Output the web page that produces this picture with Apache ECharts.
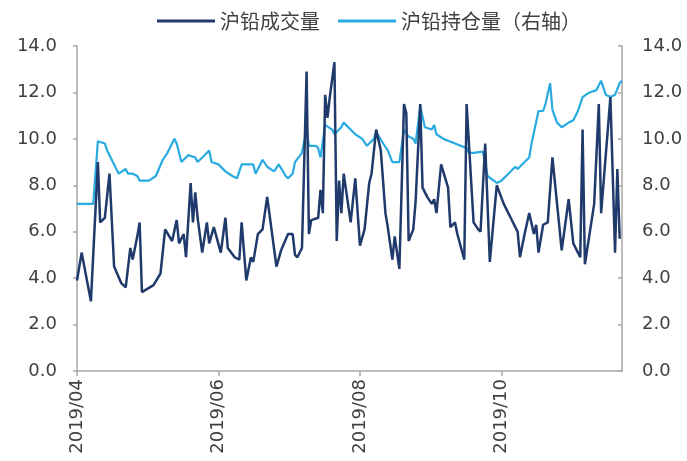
<!DOCTYPE html>
<html>
<head>
<meta charset="utf-8">
<script src="https://cdn.jsdelivr.net/npm/echarts@6/dist/echarts.min.js"></script>
<style>
html,body{margin:0;padding:0;background:#fff;}
#chart{width:687px;height:461px;}
</style>
</head>
<body>
<div id="chart"></div>
<script>
// ---- data ----
const seriesNames = ['沪铅成交量', '沪铅持仓量（右轴）'];
const xTickLabels = ['2019/04', '2019/06', '2019/08', '2019/10'];
const yTickLabels = ['0.0', '2.0', '4.0', '6.0', '8.0', '10.0', '12.0', '14.0'];
const axisStart = '2019-04-01';
const axisEnd = '2019-11-22';

const volumeDates = ['2019-04-01','2019-04-03','2019-04-07','2019-04-10','2019-04-11','2019-04-13','2019-04-15','2019-04-17','2019-04-20','2019-04-22',
'2019-04-24','2019-04-25','2019-04-27','2019-04-28','2019-04-29','2019-05-04','2019-05-07','2019-05-09','2019-05-12','2019-05-14',
'2019-05-15','2019-05-17','2019-05-18','2019-05-20','2019-05-21','2019-05-22','2019-05-23','2019-05-25','2019-05-27','2019-05-28',
'2019-05-30','2019-06-02','2019-06-04','2019-06-05','2019-06-08','2019-06-10','2019-06-11','2019-06-13','2019-06-15','2019-06-16',
'2019-06-18','2019-06-20','2019-06-22','2019-06-26','2019-06-28','2019-07-01','2019-07-03','2019-07-04','2019-07-05','2019-07-07',
'2019-07-09','2019-07-10','2019-07-11','2019-07-14','2019-07-15','2019-07-16','2019-07-17','2019-07-18','2019-07-19','2019-07-21',
'2019-07-22','2019-07-23','2019-07-24','2019-07-25','2019-07-28','2019-07-30','2019-08-01','2019-08-03','2019-08-05','2019-08-06',
'2019-08-08','2019-08-10','2019-08-12','2019-08-13','2019-08-15','2019-08-16','2019-08-18','2019-08-20','2019-08-21','2019-08-22',
'2019-08-24','2019-08-25','2019-08-27','2019-08-28','2019-08-30','2019-09-01','2019-09-02','2019-09-03','2019-09-05','2019-09-08',
'2019-09-09','2019-09-11','2019-09-12','2019-09-15','2019-09-16','2019-09-19','2019-09-21','2019-09-22','2019-09-24','2019-09-26',
'2019-09-29','2019-10-02','2019-10-05','2019-10-07','2019-10-08','2019-10-09','2019-10-11','2019-10-13','2019-10-15','2019-10-16',
'2019-10-17','2019-10-19','2019-10-21','2019-10-23','2019-10-27','2019-10-30','2019-11-01','2019-11-04','2019-11-05','2019-11-06',
'2019-11-10','2019-11-12','2019-11-13','2019-11-17','2019-11-19','2019-11-20','2019-11-21'];
const volumeValues = [3.9,5.1,3.0,9.0,6.4,6.6,8.5,4.5,3.8,3.6,
5.3,4.8,5.8,6.4,3.4,3.7,4.2,6.1,5.6,6.5,
5.5,5.9,4.9,8.1,6.4,7.7,6.6,5.1,6.4,5.5,
6.2,5.1,6.6,5.3,4.9,4.8,6.4,3.9,4.9,4.7,
5.9,6.1,7.5,4.5,5.2,5.9,5.9,5.0,4.9,5.3,
12.9,5.9,6.5,6.6,7.8,6.8,11.9,10.9,11.8,13.3,
5.6,8.2,6.8,8.5,6.4,8.3,5.4,6.1,8.1,8.5,
10.4,9.5,6.8,6.2,4.8,5.8,4.4,11.5,11.1,5.6,
6.1,7.3,11.5,7.9,7.5,7.2,7.4,6.8,8.9,7.9,
6.2,6.4,5.9,4.8,11.5,6.4,6.1,6.0,9.8,4.7,
8.0,7.2,6.6,6.2,6.0,4.9,5.9,6.8,5.9,6.3,
5.1,6.3,6.4,9.2,5.2,7.4,5.5,4.9,10.4,4.6,
7.2,11.5,6.8,11.8,5.1,8.7,5.7];

const oiDates = ['2019-04-01','2019-04-08','2019-04-10','2019-04-13','2019-04-14','2019-04-17','2019-04-19','2019-04-22','2019-04-23','2019-04-25',
'2019-04-27','2019-04-28','2019-05-02','2019-05-05','2019-05-08','2019-05-10','2019-05-13','2019-05-14','2019-05-16','2019-05-19',
'2019-05-22','2019-05-23','2019-05-25','2019-05-28','2019-05-29','2019-06-01','2019-06-04','2019-06-07','2019-06-09','2019-06-11',
'2019-06-16','2019-06-17','2019-06-20','2019-06-22','2019-06-25','2019-06-27','2019-06-30','2019-07-01','2019-07-03','2019-07-04',
'2019-07-07','2019-07-09','2019-07-10','2019-07-13','2019-07-14','2019-07-15','2019-07-17','2019-07-20','2019-07-21','2019-07-24',
'2019-07-25','2019-07-27','2019-07-30','2019-08-02','2019-08-04','2019-08-07','2019-08-08','2019-08-11','2019-08-13','2019-08-15',
'2019-08-18','2019-08-20','2019-08-22','2019-08-24','2019-08-25','2019-08-27','2019-08-29','2019-09-01','2019-09-02','2019-09-03',
'2019-09-06','2019-09-11','2019-09-16','2019-09-17','2019-09-19','2019-09-23','2019-09-25','2019-09-29','2019-10-01','2019-10-04',
'2019-10-07','2019-10-08','2019-10-11','2019-10-13','2019-10-14','2019-10-17','2019-10-19','2019-10-20','2019-10-22','2019-10-23',
'2019-10-25','2019-10-27','2019-10-30','2019-11-01','2019-11-03','2019-11-05','2019-11-08','2019-11-11','2019-11-13','2019-11-15',
'2019-11-17','2019-11-19','2019-11-21','2019-11-22'];
const oiValues = [7.2,7.2,9.9,9.8,9.5,8.9,8.5,8.7,8.5,8.5,
8.4,8.2,8.2,8.4,9.1,9.4,10.0,9.8,9.0,9.3,
9.2,9.0,9.2,9.5,9.0,8.9,8.6,8.4,8.3,8.9,
8.9,8.5,9.1,8.8,8.6,8.9,8.4,8.3,8.5,9.0,
9.4,10.4,9.7,9.7,9.6,9.2,10.6,10.4,10.2,10.5,
10.7,10.5,10.2,10.0,9.7,10.0,10.3,9.8,9.5,9.0,
9.0,10.4,10.1,10.0,9.8,11.4,10.5,10.4,10.6,10.2,
10.0,9.8,9.6,9.4,9.4,9.45,8.4,8.1,8.2,8.5,
8.8,8.7,9.0,9.2,9.8,11.2,11.2,11.5,12.4,11.25,
10.7,10.5,10.7,10.8,11.2,11.8,12.0,12.1,12.5,11.9,
11.8,11.9,12.4,12.5];

// ---- build ----
function dayOffset(s) {
  const p = s.split('-').map(Number);
  const b = axisStart.split('-').map(Number);
  return Math.round((Date.UTC(p[0], p[1] - 1, p[2]) - Date.UTC(b[0], b[1] - 1, b[2])) / 86400000);
}
const volumeData = volumeDates.map((d, i) => [dayOffset(d), volumeValues[i]]);
const oiData = oiDates.map((d, i) => [dayOffset(d), oiValues[i]]);
const xMax = dayOffset(axisEnd);
const monthStep = 61; // Apr1->Jun1->Aug1->Oct1 are each 61 days

const labelColor = '#404040';
const axisColor = '#a6a6a6';
const darkColor = '#1f3a6b';
const lightColor = '#29abe2';

const chart = echarts.init(document.getElementById('chart'), null, {renderer: 'canvas'});
chart.setOption({
  backgroundColor: '#ffffff',
  animation: false,
  legend: {
    left: 152,
    top: 6,
    itemWidth: 58,
    itemHeight: 3,
    itemGap: 18,
    icon: 'rect',
    textStyle: {color: labelColor, fontSize: 20, fontFamily: 'Noto Sans CJK SC'},
    data: seriesNames
  },
  grid: {left: 77, right: 65, top: 46, bottom: 90},
  xAxis: {
    type: 'value',
    min: 0,
    max: xMax,
    interval: monthStep,
    splitLine: {show: false},
    axisLine: {lineStyle: {color: axisColor, width: 1.5}},
    axisTick: {show: true, length: 5, lineStyle: {color: axisColor, width: 1.5}},
    axisLabel: {
      rotate: 90,
      margin: 8,
      showMaxLabel: false,
      color: labelColor,
      fontSize: 18,
      fontFamily: 'DejaVu Sans',
      formatter: function (v) {
        const i = Math.round(v / monthStep);
        return (Math.abs(v - i * monthStep) < 0.01 && xTickLabels[i]) ? xTickLabels[i] : '';
      }
    }
  },
  yAxis: [
    {
      type: 'value', min: 0, max: 14, interval: 2, position: 'left',
      splitLine: {show: false},
      axisLine: {show: true, lineStyle: {color: axisColor, width: 1.5}},
      axisTick: {show: true, length: 4, lineStyle: {color: axisColor, width: 1.5}},
      axisLabel: {margin: 20, color: labelColor, fontSize: 18, fontFamily: 'DejaVu Sans',
        formatter: v => yTickLabels[Math.round(v / 2)]}
    },
    {
      type: 'value', min: 0, max: 14, interval: 2, position: 'right',
      splitLine: {show: false},
      axisLine: {show: true, lineStyle: {color: axisColor, width: 1.5}},
      axisTick: {show: true, inside: true, length: 4, lineStyle: {color: axisColor, width: 1.5}},
      axisLabel: {margin: 20, color: labelColor, fontSize: 18, fontFamily: 'DejaVu Sans',
        formatter: v => yTickLabels[Math.round(v / 2)]}
    }
  ],
  series: [
    {
      name: seriesNames[0], type: 'line', yAxisIndex: 0, data: volumeData,
      showSymbol: false, symbol: 'none', z: 3,
      lineStyle: {color: darkColor, width: 2.5},
      itemStyle: {color: darkColor}
    },
    {
      name: seriesNames[1], type: 'line', yAxisIndex: 1, data: oiData,
      showSymbol: false, symbol: 'none', z: 2,
      lineStyle: {color: lightColor, width: 2.2},
      itemStyle: {color: lightColor}
    }
  ]
});
</script>
</body>
</html>
